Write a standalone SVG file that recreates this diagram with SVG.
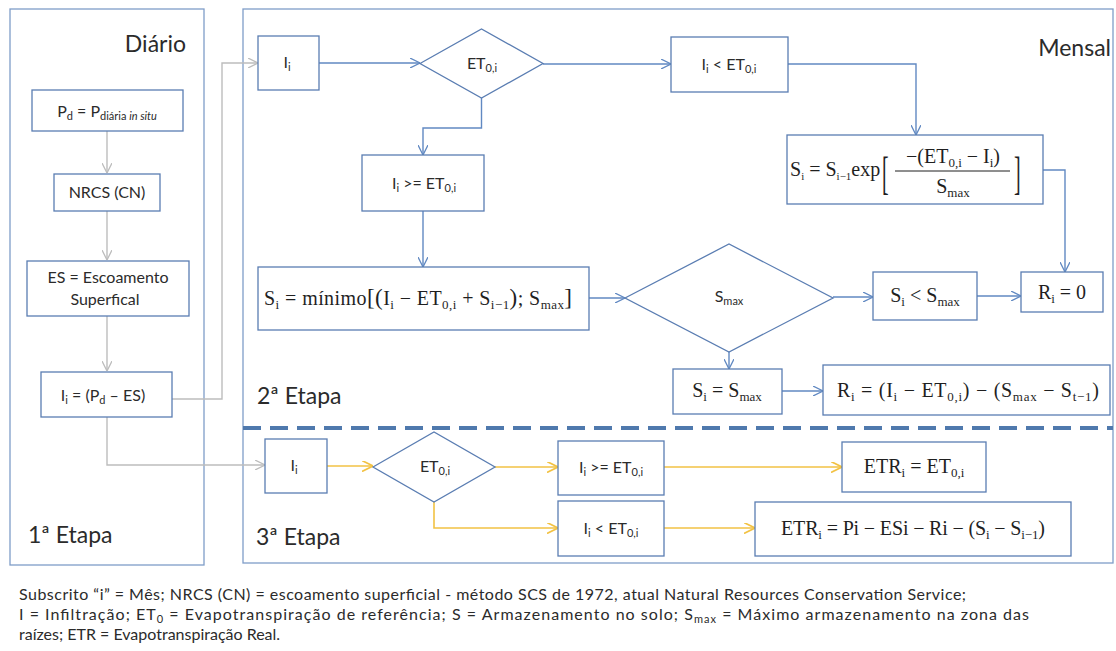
<svg xmlns="http://www.w3.org/2000/svg" width="1116" height="651" viewBox="0 0 1116 651">
<defs>
<style>
.bg{fill:#ffffff}
.panel{fill:none;stroke:#7f9dc8;stroke-width:1.3}
.box{fill:#ffffff;stroke:#5a7db2;stroke-width:1.3}
.lbl{font-family:Lato,"Open Sans","Liberation Sans",sans-serif;font-size:16px;fill:#2b2b2b}
.ttl{font-family:Lato,"Open Sans","Liberation Sans",sans-serif;font-size:23px;fill:#2b2b2b}
.cap{font-family:Lato,"Open Sans","Liberation Sans",sans-serif;font-size:16px;fill:#2b2b2b}
.math{font-family:"Liberation Serif","DejaVu Serif",serif;font-size:20px;fill:#1f1f1f}
.s{font-size:11px}
.ms{font-size:13px}
.cb{fill:none;stroke:#6189c2;stroke-width:1.4;marker-end:url(#ab)}
.cg{fill:none;stroke:#bdbdbd;stroke-width:1.4;marker-end:url(#ag)}
.cy{fill:none;stroke:#f2c244;stroke-width:1.6;marker-end:url(#ay)}
</style>
<marker id="ab" viewBox="0 0 10 10" refX="10" refY="5" markerWidth="10" markerHeight="10" markerUnits="userSpaceOnUse" orient="auto"><path d="M0,0 L10,5 L0,10" fill="none" stroke="#6189c2" stroke-width="1.3"/></marker>
<marker id="ag" viewBox="0 0 10 10" refX="10" refY="5" markerWidth="10" markerHeight="10" markerUnits="userSpaceOnUse" orient="auto"><path d="M0,0 L10,5 L0,10" fill="none" stroke="#bdbdbd" stroke-width="1.3"/></marker>
<marker id="ay" viewBox="0 0 10 10" refX="10" refY="5" markerWidth="11" markerHeight="11" markerUnits="userSpaceOnUse" orient="auto"><path d="M0,0 L10,5 L0,10" fill="none" stroke="#f2c244" stroke-width="1.5"/></marker>
</defs>
<rect class="bg" x="0" y="0" width="1116" height="651"/>

<g id="panels">
<rect class="panel" x="10" y="9" width="194" height="556"/>
<rect class="panel" x="243" y="9" width="870" height="554"/>
<line x1="243" y1="428" x2="1113" y2="428" stroke="#4f79ad" stroke-width="4" stroke-dasharray="18 9"/>
<text class="ttl" x="186" y="52" text-anchor="end">Diário</text>
<text class="ttl" x="1111" y="56" text-anchor="end">Mensal</text>
<text class="ttl" x="28" y="543">1ª Etapa</text>
<text class="ttl" x="257" y="404">2ª Etapa</text>
<text class="ttl" x="256" y="545">3ª Etapa</text>
</g>

<g id="connectors">
<path class="cg" d="M107,131 V173"/>
<path class="cg" d="M107,211 V260"/>
<path class="cg" d="M107,316 V371"/>
<path class="cg" d="M172,399 H222 V63 H258"/>
<path class="cg" d="M107,417 V465 H265"/>
<path class="cb" d="M319,63 H420"/>
<path class="cb" d="M543,64 H671"/>
<path class="cb" d="M788,64 H916 V135"/>
<path class="cb" d="M1043,170 H1065 V272"/>
<path class="cb" d="M481.5,98 V128 H423 V155"/>
<path class="cb" d="M423,211 V267"/>
<path class="cb" d="M589,298 H625"/>
<path class="cb" d="M833,297 H873"/>
<path class="cb" d="M977,296 H1021"/>
<path class="cb" d="M729,352 V369"/>
<path class="cb" d="M782,391 H823"/>
<path class="cy" d="M327,466 H373"/>
<path class="cy" d="M495,467 H558"/>
<path class="cy" d="M434,502 V528 H558"/>
<path class="cy" d="M664,467 H842"/>
<path class="cy" d="M664,528 H755"/>
</g>

<g id="n-pd">
<rect class="box" x="32" y="90" width="151" height="41"/>
<text class="lbl" x="107" y="117" text-anchor="middle">P<tspan class="s" dy="3">d</tspan><tspan dy="-3"> = P</tspan><tspan class="s" dy="3">diária <tspan font-style="italic">in situ</tspan></tspan></text>
</g>
<g id="n-nrcs">
<rect class="box" x="54" y="174" width="106" height="37"/>
<text class="lbl" x="107" y="198" text-anchor="middle">NRCS (CN)</text>
</g>
<g id="n-es">
<rect class="box" x="27" y="261" width="162" height="55"/>
<text class="lbl" x="108" y="283" text-anchor="middle">ES = Escoamento</text>
<text class="lbl" x="105" y="305" text-anchor="middle">Superfical</text>
</g>
<g id="n-infil">
<rect class="box" x="41" y="372" width="131" height="45"/>
<text class="lbl" x="103" y="401" text-anchor="middle">I<tspan class="s" dy="3">i</tspan><tspan dy="-3"> = (P</tspan><tspan class="s" dy="3">d</tspan><tspan dy="-3"> – ES)</tspan></text>
</g>

<g id="n-i2">
<rect class="box" x="258" y="36" width="61" height="54"/>
<text class="lbl" x="287" y="68" text-anchor="middle">I<tspan class="s" dy="3">i</tspan></text>
</g>
<g id="n-et2">
<polygon class="box" points="420,63.5 481.5,29 543,63.5 481.5,98"/>
<text class="lbl" x="482" y="69" text-anchor="middle">ET<tspan class="s" dy="3">0,i</tspan></text>
</g>
<g id="n-lt2">
<rect class="box" x="671" y="37" width="117" height="55"/>
<text class="lbl" x="729" y="70" text-anchor="middle">I<tspan class="s" dy="3">i</tspan><tspan dy="-3"> &lt;  ET</tspan><tspan class="s" dy="3">0,i</tspan></text>
</g>
<g id="n-sexp">
<rect class="box" x="787" y="135" width="256" height="69"/>
<text class="math" font-size="15" x="790" y="176">S<tspan font-size="11" dy="4">i</tspan><tspan dy="-4"> = S</tspan><tspan font-size="11" dy="4">i−1</tspan><tspan dy="-4">exp</tspan></text>
<text class="math" font-size="26" transform="translate(882 189) scale(1 2.3)">[</text>
<text class="math" font-size="18" x="953" y="163" text-anchor="middle">−(ET<tspan class="ms" dy="4">0,i</tspan><tspan dy="-4"> − I</tspan><tspan class="ms" dy="4">i</tspan><tspan dy="-4">)</tspan></text>
<line x1="895" y1="171" x2="1010" y2="171" stroke="#1f1f1f" stroke-width="1"/>
<text class="math" font-size="18" x="953" y="193" text-anchor="middle">S<tspan class="ms" dy="4">max</tspan></text>
<text class="math" font-size="26" transform="translate(1014 189) scale(1 2.3)">]</text>
</g>
<g id="n-ge2">
<rect class="box" x="362" y="155" width="122" height="56"/>
<text class="lbl" x="424" y="189" text-anchor="middle">I<tspan class="s" dy="3">i</tspan><tspan dy="-3"> &gt;= ET</tspan><tspan class="s" dy="3">0,i</tspan></text>
</g>
<g id="n-min">
<rect class="box" x="258" y="267" width="331" height="63"/>
<text class="math" x="264" y="305" textLength="308" lengthAdjust="spacing">S<tspan class="ms" dy="4">i</tspan><tspan dy="-4"> = mínimo</tspan><tspan font-size="23">[(</tspan>I<tspan class="ms" dy="4">i</tspan><tspan dy="-4"> − ET</tspan><tspan class="ms" dy="4">0,i</tspan><tspan dy="-4"> + S</tspan><tspan class="ms" dy="4">i−1</tspan><tspan dy="-4" font-size="23">)</tspan>; S<tspan class="ms" dy="4">max</tspan><tspan dy="-4" font-size="23">]</tspan></text>
</g>
<g id="n-smax">
<polygon class="box" points="625,298 729,244 833,298 729,352"/>
<text class="lbl" x="729" y="302" text-anchor="middle">S<tspan class="s" dy="3">max</tspan></text>
</g>
<g id="n-slt">
<rect class="box" x="873" y="272" width="104" height="48"/>
<text class="math" x="925" y="302" text-anchor="middle">S<tspan class="ms" dy="4">i</tspan><tspan dy="-4"> &lt; S</tspan><tspan class="ms" dy="4">max</tspan></text>
</g>
<g id="n-r0">
<rect class="box" x="1021" y="272" width="82" height="40"/>
<text class="math" x="1062" y="299" text-anchor="middle">R<tspan class="ms" dy="4">i</tspan><tspan dy="-4"> = 0</tspan></text>
</g>
<g id="n-seq">
<rect class="box" x="673" y="369" width="109" height="45"/>
<text class="math" x="727" y="397" text-anchor="middle">S<tspan class="ms" dy="4">i</tspan><tspan dy="-4"> = S</tspan><tspan class="ms" dy="4">max</tspan></text>
</g>
<g id="n-r">
<rect class="box" x="823" y="365" width="287" height="50"/>
<text class="math" x="968" y="397" text-anchor="middle" textLength="262" lengthAdjust="spacing">R<tspan class="ms" dy="4">i</tspan><tspan dy="-4"> = (I</tspan><tspan class="ms" dy="4">i</tspan><tspan dy="-4"> − ET</tspan><tspan class="ms" dy="4">0,i</tspan><tspan dy="-4">) − (S</tspan><tspan class="ms" dy="4">max</tspan><tspan dy="-4"> − S</tspan><tspan class="ms" dy="4">t−1</tspan><tspan dy="-4">)</tspan></text>
</g>

<g id="n-i3">
<rect class="box" x="265" y="439" width="62" height="54"/>
<text class="lbl" x="294" y="471" text-anchor="middle">I<tspan class="s" dy="3">i</tspan></text>
</g>
<g id="n-et3">
<polygon class="box" points="373,467 434,432 495,467 434,502"/>
<text class="lbl" x="435" y="472" text-anchor="middle">ET<tspan class="s" dy="3">0,i</tspan></text>
</g>
<g id="n-ge3">
<rect class="box" x="558" y="441" width="106" height="54"/>
<text class="lbl" x="611" y="473" text-anchor="middle">I<tspan class="s" dy="3">i</tspan><tspan dy="-3"> &gt;= ET</tspan><tspan class="s" dy="3">0,i</tspan></text>
</g>
<g id="n-lt3">
<rect class="box" x="558" y="501" width="106" height="55"/>
<text class="lbl" x="611" y="534" text-anchor="middle">I<tspan class="s" dy="3">i</tspan><tspan dy="-3"> &lt;  ET</tspan><tspan class="s" dy="3">0,i</tspan></text>
</g>
<g id="n-etr1">
<rect class="box" x="842" y="442" width="144" height="50"/>
<text class="math" x="914" y="473" text-anchor="middle">ETR<tspan class="ms" dy="4">i</tspan><tspan dy="-4"> =  ET</tspan><tspan class="ms" dy="4">0,i</tspan></text>
</g>
<g id="n-etr2">
<rect class="box" x="755" y="502" width="316" height="54"/>
<text class="math" x="913" y="535" text-anchor="middle" textLength="264" lengthAdjust="spacing">ETR<tspan class="ms" dy="4">i</tspan><tspan dy="-4"> = Pi − ESi − Ri − (S</tspan><tspan class="ms" dy="4">i</tspan><tspan dy="-4"> − S</tspan><tspan class="ms" dy="4">i−1</tspan><tspan dy="-4">)</tspan></text>
</g>

<g id="caption">
<text class="cap" x="19" y="600" textLength="947" lengthAdjust="spacing">Subscrito “i” = Mês; NRCS (CN) = escoamento superficial - método  SCS de 1972, atual Natural Resources Conservation Service;</text>
<text class="cap" x="19" y="620" textLength="1010" lengthAdjust="spacing">I = Infiltração; ET<tspan class="s" dy="3">0</tspan><tspan dy="-3"> = Evapotranspiração de referência; S = Armazenamento  no solo;  S</tspan><tspan class="s" dy="3">max</tspan><tspan dy="-3"> = Máximo armazenamento  na zona das</tspan></text>
<text class="cap" x="19" y="640">raízes; ETR = Evapotranspiração Real.</text>
</g>
</svg>
